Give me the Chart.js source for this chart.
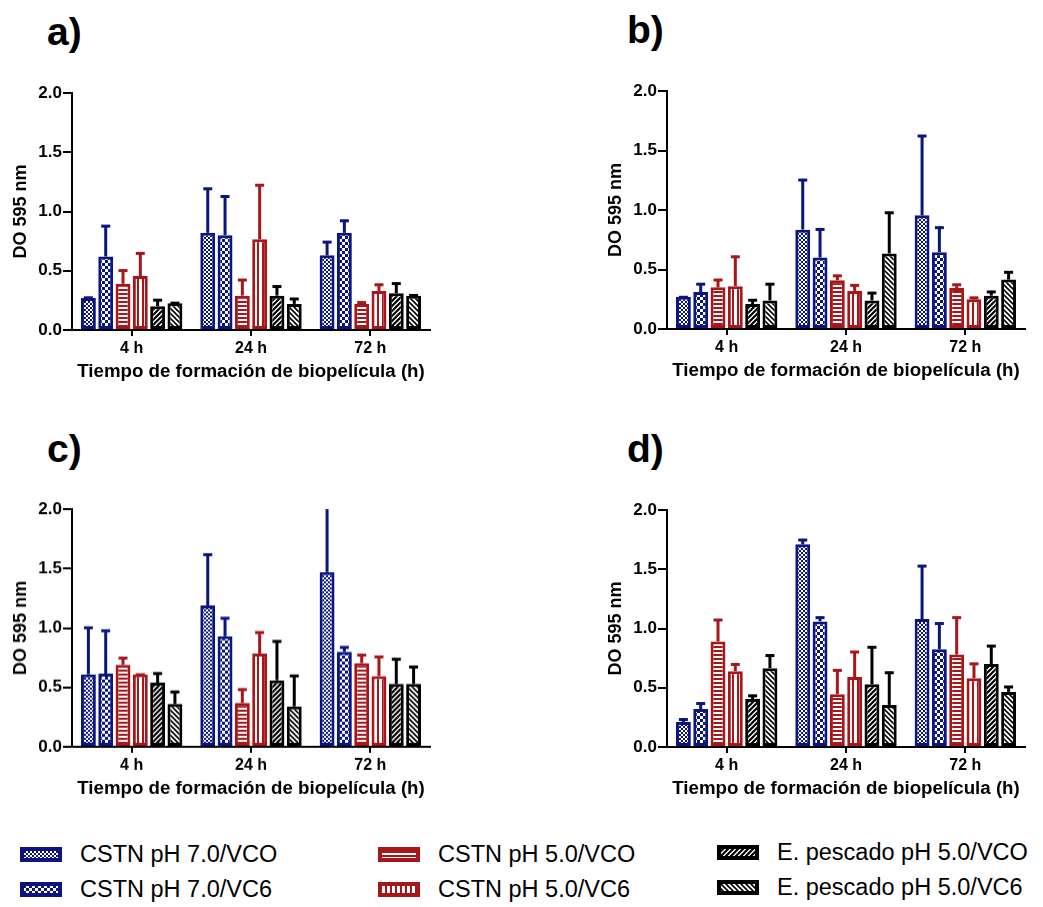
<!DOCTYPE html>
<html><head><meta charset="utf-8">
<script src="https://cdn.jsdelivr.net/npm/chart.js@4/dist/chart.umd.min.js"></script>
<style>
html,body{margin:0;padding:0;background:#fff;}
body{width:1043px;height:907px;position:relative;overflow:hidden;font-family:"Liberation Sans",Arial,sans-serif;}
canvas.panel{position:absolute;}
.letter{position:absolute;font-weight:bold;font-size:39px;line-height:1;color:#000;}
.leg{position:absolute;display:flex;align-items:center;font-size:23.5px;color:#000;white-space:nowrap;}
.leg canvas{margin-right:18px;}
</style></head>
<body>
<div class="letter" style="left:47px;top:12px;">a)</div>
<div class="letter" style="left:627px;top:10px;">b)</div>
<div class="letter" style="left:47px;top:429px;">c)</div>
<div class="letter" style="left:627px;top:429px;">d)</div>
<canvas id="pa" class="panel"></canvas>
<canvas id="pb" class="panel"></canvas>
<canvas id="pc" class="panel"></canvas>
<canvas id="pd" class="panel"></canvas>
<div id="legend"></div>
<script>
// ---------- data ----------
const categories = ['4 h', '24 h', '72 h'];
const seriesNames = ['CSTN pH 7.0/VCO', 'CSTN pH 7.0/VC6', 'CSTN pH 5.0/VCO', 'CSTN pH 5.0/VC6', 'E. pescado pH 5.0/VCO', 'E. pescado pH 5.0/VC6'];
const yTicks = ['0.0', '0.5', '1.0', '1.5', '2.0'];
const yTitle = 'DO 595 nm';
const xTitle = 'Tiempo de formación de biopelícula (h)';

// Panel a) means and upper ends of error bars
const a_cstn7_vco = [0.27, 0.82, 0.63];   const a_cstn7_vco_up = [0.28, 1.20, 0.75];
const a_cstn7_vc6 = [0.62, 0.80, 0.82];   const a_cstn7_vc6_up = [0.885, 1.135, 0.93];
const a_cstn5_vco = [0.39, 0.29, 0.22];   const a_cstn5_vco_up = [0.51, 0.43, 0.24];
const a_cstn5_vc6 = [0.455, 0.765, 0.33]; const a_cstn5_vc6_up = [0.655, 1.23, 0.39];
const a_pesc_vco  = [0.20, 0.29, 0.31];   const a_pesc_vco_up  = [0.26, 0.375, 0.40];
const a_pesc_vc6  = [0.225, 0.22, 0.29];  const a_pesc_vc6_up  = [0.235, 0.27, 0.30];
// Panel b)
const b_cstn7_vco = [0.27, 0.835, 0.955]; const b_cstn7_vco_up = [0.275, 1.26, 1.63];
const b_cstn7_vc6 = [0.31, 0.60, 0.645];  const b_cstn7_vc6_up = [0.385, 0.845, 0.86];
const b_cstn5_vco = [0.35, 0.41, 0.345];  const b_cstn5_vco_up = [0.42, 0.455, 0.38];
const b_cstn5_vc6 = [0.36, 0.32, 0.25];   const b_cstn5_vc6_up = [0.615, 0.375, 0.27];
const b_pesc_vco  = [0.21, 0.24, 0.28];   const b_pesc_vco_up  = [0.25, 0.31, 0.32];
const b_pesc_vc6  = [0.24, 0.635, 0.415]; const b_pesc_vc6_up  = [0.385, 0.985, 0.485];
// Panel c)
const c_cstn7_vco = [0.61, 1.19, 1.47];   const c_cstn7_vco_up = [1.01, 1.625, 2.1];
const c_cstn7_vc6 = [0.615, 0.93, 0.80];  const c_cstn7_vc6_up = [0.985, 1.09, 0.845];
const c_cstn5_vco = [0.69, 0.37, 0.705];  const c_cstn5_vco_up = [0.755, 0.49, 0.78];
const c_cstn5_vc6 = [0.61, 0.785, 0.595]; const c_cstn5_vc6_up = [0.615, 0.97, 0.765];
const c_pesc_vco  = [0.54, 0.56, 0.53];   const c_pesc_vco_up  = [0.625, 0.895, 0.745];
const c_pesc_vc6  = [0.36, 0.34, 0.53];   const c_pesc_vc6_up  = [0.47, 0.605, 0.68];
// Panel d)
const d_cstn7_vco = [0.21, 1.71, 1.08];   const d_cstn7_vco_up = [0.24, 1.755, 1.535];
const d_cstn7_vc6 = [0.32, 1.06, 0.825];  const d_cstn7_vc6_up = [0.375, 1.10, 1.05];
const d_cstn5_vco = [0.89, 0.445, 0.78];  const d_cstn5_vco_up = [1.08, 0.655, 1.10];
const d_cstn5_vc6 = [0.64, 0.59, 0.58];   const d_cstn5_vc6_up = [0.705, 0.81, 0.71];
const d_pesc_vco  = [0.405, 0.53, 0.70];  const d_pesc_vco_up  = [0.44, 0.85, 0.86];
const d_pesc_vc6  = [0.665, 0.355, 0.465];const d_pesc_vc6_up  = [0.78, 0.635, 0.515];

// ---------- styles ----------
const BLUE = '#0a1580', RED = '#a8161a', BLACK = '#000000';
const seriesStyle = [
  {color: BLUE, pat: 'checkFine'},
  {color: BLUE, pat: 'checkCoarse'},
  {color: RED, pat: 'hlines'},
  {color: RED, pat: 'vlines'},
  {color: BLACK, pat: 'diagF'},
  {color: BLACK, pat: 'diagB'}
];

function makePattern(kind, color) {
  const c = document.createElement('canvas');
  let ctx;
  const init = (w, h) => { c.width = w; c.height = h; ctx = c.getContext('2d'); ctx.fillStyle = '#fff'; ctx.fillRect(0, 0, w, h); ctx.fillStyle = color; ctx.strokeStyle = color; };
  if (kind === 'checkFine') { init(4, 4); ctx.fillRect(0, 0, 2, 2); ctx.fillRect(2, 2, 2, 2); }
  else if (kind === 'checkCoarse') { init(6, 6); ctx.fillRect(0, 0, 3, 3); ctx.fillRect(3, 3, 3, 3); }
  else if (kind === 'hlines') { init(4, 4); ctx.fillRect(0, 0, 4, 2); }
  else if (kind === 'vlines') { init(5, 5); ctx.fillRect(2, 0, 2, 5); }
  else if (kind === 'diagF') {
    init(5, 5); ctx.lineWidth = 2.2; ctx.beginPath();
    for (let k = -1; k <= 1; k++) { ctx.moveTo(k * 5 - 1, 6); ctx.lineTo(k * 5 + 6, -1); }
    ctx.stroke();
  } else if (kind === 'diagB') {
    init(5, 5); ctx.lineWidth = 1.6; ctx.beginPath();
    for (let k = -1; k <= 1; k++) { ctx.moveTo(k * 5 - 1, -1); ctx.lineTo(k * 5 + 6, 6); }
    ctx.stroke();
  }
  return c;
}

const panels = [
  {id: 'pa', means: [a_cstn7_vco, a_cstn7_vc6, a_cstn5_vco, a_cstn5_vc6, a_pesc_vco, a_pesc_vc6],
   ups: [a_cstn7_vco_up, a_cstn7_vc6_up, a_cstn5_vco_up, a_cstn5_vc6_up, a_pesc_vco_up, a_pesc_vc6_up],
   area: {left: 72, top: 92.7, right: 430, bottom: 330}},
  {id: 'pb', means: [b_cstn7_vco, b_cstn7_vc6, b_cstn5_vco, b_cstn5_vc6, b_pesc_vco, b_pesc_vc6],
   ups: [b_cstn7_vco_up, b_cstn7_vc6_up, b_cstn5_vco_up, b_cstn5_vc6_up, b_pesc_vco_up, b_pesc_vc6_up],
   area: {left: 667, top: 90.7, right: 1025, bottom: 328.7}},
  {id: 'pc', means: [c_cstn7_vco, c_cstn7_vc6, c_cstn5_vco, c_cstn5_vc6, c_pesc_vco, c_pesc_vc6],
   ups: [c_cstn7_vco_up, c_cstn7_vc6_up, c_cstn5_vco_up, c_cstn5_vc6_up, c_pesc_vco_up, c_pesc_vc6_up],
   area: {left: 72, top: 509.3, right: 430, bottom: 747.3}},
  {id: 'pd', means: [d_cstn7_vco, d_cstn7_vc6, d_cstn5_vco, d_cstn5_vc6, d_pesc_vco, d_pesc_vc6],
   ups: [d_cstn7_vco_up, d_cstn7_vc6_up, d_cstn5_vco_up, d_cstn5_vc6_up, d_pesc_vco_up, d_pesc_vc6_up],
   area: {left: 667, top: 510, right: 1025, bottom: 747}}
];

const Y_AXIS_W = 72, X_AXIS_H = 53, PAD_TOP = 40, PAD_RIGHT = 15, PAD_BOTTOM = 20;

const errorBarPlugin = {
  id: 'errorBars',
  afterDatasetsDraw(chart) {
    const ctx = chart.ctx, ys = chart.scales.y, ca = chart.chartArea;
    chart.data.datasets.forEach((ds, i) => {
      const meta = chart.getDatasetMeta(i);
      meta.data.forEach((el, j) => {
        const up = ds.upper[j];
        const yTop = ys.getPixelForValue(up);
        const yBar = el.y;
        ctx.save();
        ctx.strokeStyle = ds.errColor; ctx.lineWidth = 3; ctx.lineCap = 'butt';
        const yEnd = Math.max(yTop, ca.top);
        if (yBar - yEnd > 1) {
          ctx.beginPath(); ctx.moveTo(el.x, yBar); ctx.lineTo(el.x, yEnd); ctx.stroke();
        }
        if (yTop >= ca.top) {
          ctx.beginPath(); ctx.moveTo(el.x - 4.5, yTop + 1); ctx.lineTo(el.x + 4.5, yTop + 1); ctx.stroke();
        }
        ctx.restore();
      });
    });
  }
};

panels.forEach(p => {
  const cv = document.getElementById(p.id);
  const cx = p.area.left - Y_AXIS_W, cy = p.area.top - PAD_TOP;
  const cw = p.area.right - cx + PAD_RIGHT;
  const ch = (p.area.bottom - cy) + X_AXIS_H + PAD_BOTTOM;
  cv.width = cw; cv.height = ch;
  cv.style.left = cx + 'px'; cv.style.top = cy + 'px';
  cv.style.width = cw + 'px'; cv.style.height = ch + 'px';
  const datasets = p.means.map((m, i) => ({
    label: seriesNames[i],
    data: m,
    upper: p.ups[i],
    errColor: seriesStyle[i].color,
    backgroundColor: cv.getContext('2d').createPattern(makePattern(seriesStyle[i].pat, seriesStyle[i].color), 'repeat'),
    borderColor: seriesStyle[i].color,
    borderWidth: 3,
    borderSkipped: false,
    categoryPercentage: 0.87,
    barPercentage: 0.86
  }));
  new Chart(cv, {
    type: 'bar',
    data: {labels: categories, datasets},
    plugins: [errorBarPlugin],
    options: {
      responsive: false, animation: false, devicePixelRatio: 1,
      layout: {padding: {top: PAD_TOP, left: 0, right: PAD_RIGHT, bottom: PAD_BOTTOM}},
      plugins: {legend: {display: false}, tooltip: {enabled: false}},
      scales: {
        x: {
          type: 'category', offset: true,
          grid: {offset: false, drawOnChartArea: false, drawTicks: true, tickLength: 6, color: '#000', lineWidth: 2},
          border: {display: true, color: '#000', width: 2},
          ticks: {color: '#000', padding: 3, font: {family: 'Liberation Sans', size: 16, weight: 'bold'}},
          title: {display: true, text: xTitle, color: '#000', padding: {top: 0, bottom: 0},
                  font: {family: 'Liberation Sans', size: 18.7, weight: 'bold'}},
          afterFit: s => { s.height = X_AXIS_H; }
        },
        y: {
          min: 0, max: 2,
          grid: {drawOnChartArea: false, drawTicks: true, tickLength: 9, color: '#000', lineWidth: 2},
          border: {display: true, color: '#000', width: 2},
          ticks: {stepSize: 0.5, color: '#000', padding: 1,
                  font: {family: 'Liberation Sans', size: 17, weight: 'bold'},
                  callback: (v, i) => yTicks[i]},
          title: {display: true, text: yTitle, color: '#000', padding: {top: 10, bottom: 0},
                  font: {family: 'Liberation Sans', size: 18, weight: 'bold'}},
          afterFit: s => { s.width = Y_AXIS_W; }
        }
      }
    }
  });
});

// ---------- legend ----------
const legendPos = [
  {x: 20, y: 854}, {x: 20, y: 889},
  {x: 378, y: 854}, {x: 378, y: 889},
  {x: 717, y: 852}, {x: 717, y: 887}
];
const legendRoot = document.getElementById('legend');
seriesNames.forEach((name, i) => {
  const d = document.createElement('div');
  d.className = 'leg';
  d.style.left = legendPos[i].x + 'px';
  d.style.top = (legendPos[i].y - 14) + 'px';
  d.style.height = '28px';
  const sw = document.createElement('canvas');
  sw.width = 42; sw.height = 15;
  const sctx = sw.getContext('2d');
  sctx.fillStyle = sctx.createPattern(makePattern(seriesStyle[i].pat, seriesStyle[i].color), 'repeat');
  sctx.fillRect(0, 0, 42, 15);
  sctx.strokeStyle = seriesStyle[i].color; sctx.lineWidth = 4;
  sctx.strokeRect(2, 2, 38, 11);
  d.appendChild(sw);
  const t = document.createElement('span');
  t.textContent = name;
  d.appendChild(t);
  legendRoot.appendChild(d);
});
</script>
</body></html>
